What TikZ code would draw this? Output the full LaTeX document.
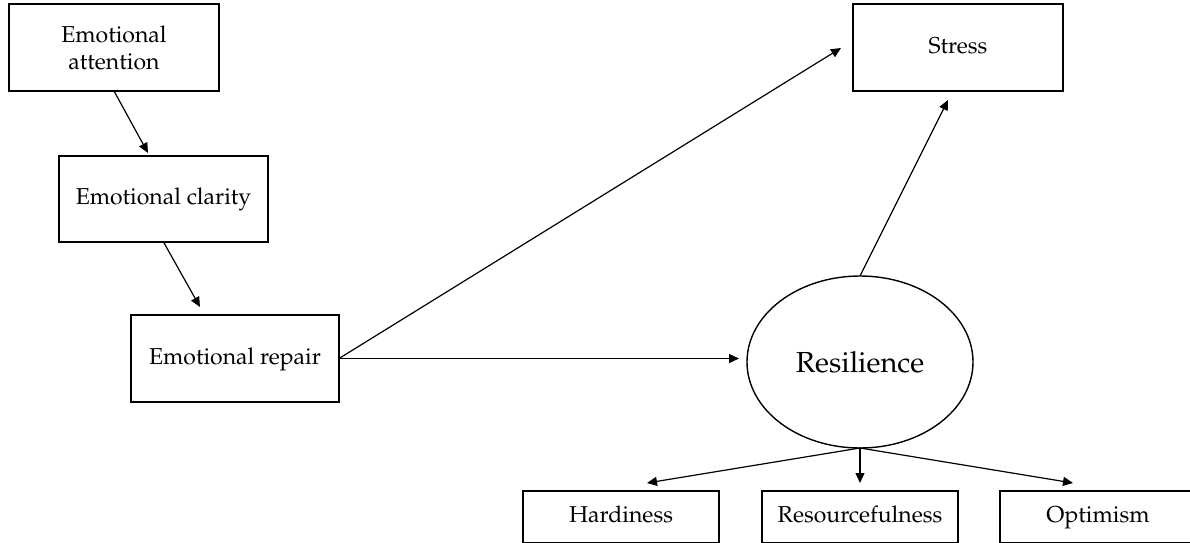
\documentclass[tikz,border=0pt]{standalone}
\usepackage[T1]{fontenc}
\usepackage{mathpazo}
\usetikzlibrary{arrows.meta,calc,shapes.geometric}
\begin{document}
\begin{tikzpicture}[x=0.5pt,y=-0.5pt,
  every node/.style={inner sep=0pt,outer sep=0pt},
  boxnode/.style={draw,line width=0.7pt,rectangle,align=center,
    font=\fontsize{11.5}{13.5}\selectfont},
  oneline/.style={text height=8pt,text depth=2.5pt},
  latent/.style={draw,line width=0.7pt,ellipse,minimum width=113pt,minimum height=86pt,
    font=\fontsize{14.5}{17}\selectfont},
  conn/.style={line width=0.6pt,-{Triangle[length=5pt,width=4.5pt]}}]
\useasboundingbox (0,0) rectangle (1190,542);
\clip (0,0) rectangle (1190,542);
\node[boxnode,minimum width=105pt,minimum height=43.5pt] (att) at (114,47.5) {Emotional\\attention};
\node[boxnode,oneline,minimum width=104.5pt,minimum height=43pt] (cla) at (163.5,199) {Emotional clarity};
\node[boxnode,oneline,minimum width=104pt,minimum height=43.5pt] (rep) at (235,358.5) {Emotional repair};
\node[boxnode,oneline,minimum width=105pt,minimum height=43.5pt] (str) at (958,47.5) {Stress};
\node[latent] (res) at (860,362) {Resilience};
\node[boxnode,oneline,minimum width=98pt,minimum height=26pt] (har) at (621,517) {Hardiness};
\node[boxnode,oneline,minimum width=98pt,minimum height=26pt] (rsf) at (860,517) {Resourcefulness};
\node[boxnode,oneline,minimum width=98pt,minimum height=26pt] (opt) at (1098,517) {Optimism};
\draw[conn] (att.south) -- ($(cla.north)+(-15.5,-3)$);
\draw[conn] (cla.south) -- ($(rep.north)+(-35,-8)$);
\draw[conn] (rep.east) -- ($(str.west)+(-12,0.5)$);
\draw[conn] (rep.east) -- ($(rep.east -| res.west)+(-8,0)$);
\draw[conn] (res.north) -- ($(str.south)+(-10,9)$);
\draw[conn] (res.south) -- ($(har.north)+(26,-8)$);
\draw[conn] (res.south) -- ($(rsf.north)+(0,-8)$);
\draw[conn] (res.south) -- ($(opt.north)+(-25,-8)$);
\end{tikzpicture}
\end{document}
